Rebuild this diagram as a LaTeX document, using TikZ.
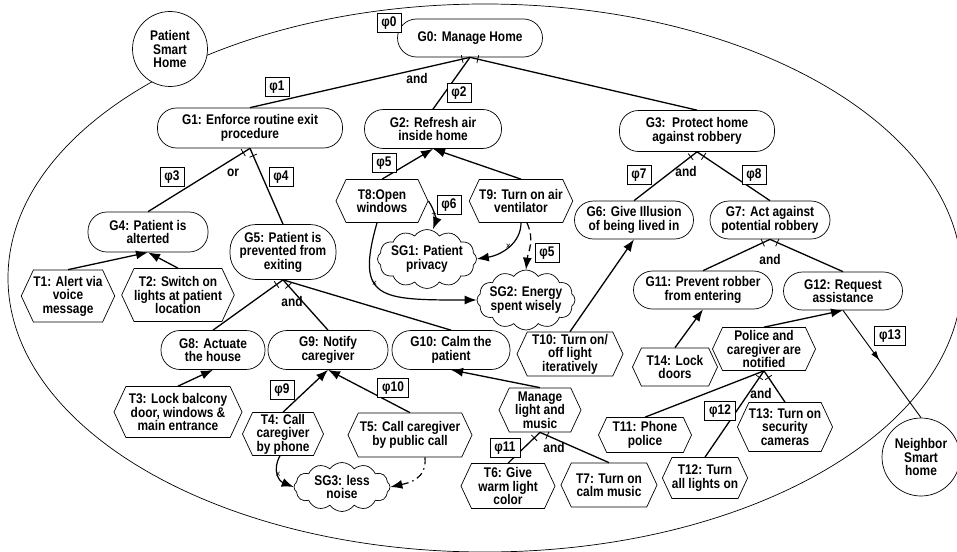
\documentclass[tikz,border=0pt]{standalone}
\usepackage{fontspec}
\setmainfont[FakeStretch=0.85]{Liberation Sans}
\usetikzlibrary{positioning,shapes.symbols,shapes.misc,arrows.meta,calc,decorations.markings}

\begin{document}
\begin{tikzpicture}[x=1pt,y=-1pt,
every node/.style={font=\fontsize{14}{13.5}\selectfont\bfseries,align=center,inner sep=0pt},
goal/.style={draw,rectangle,rounded corners=19pt,line width=0.7pt,fill=white},
task/.style={draw,signal,signal to=east and west,signal pointer angle=130,line width=0.7pt,fill=white},
soft/.style={draw,cloud,cloud puffs=12,cloud puff arc=110,inner xsep=-17pt,inner ysep=-9pt,line width=0.7pt,fill=white},
actor/.style={draw,circle,line width=0.7pt,fill=white},
phi/.style={draw,line width=0.6pt,inner xsep=4.5pt,minimum height=19pt,fill=white},
sym/.style={font=\fontsize{10}{10}\selectfont,inner sep=0pt},
dec/.style={line width=1.3pt},
means/.style={line width=1.3pt,-{Latex[length=12pt,width=9pt]}},
contrib/.style={line width=1.2pt,-{Latex[length=12pt,width=9pt]}}]

\useasboundingbox (0,0) rectangle (957,551);
\draw[line width=0.7pt] (485,278) ellipse [x radius=477,y radius=274];

\node[actor,minimum size=75pt] (PSH) at (170,49) {Patient\\Smart\\Home};
\node[actor,minimum size=78pt] (NSH) at (921,457) {Neighbor\\Smart\\home};

\node[goal,minimum width=145,minimum height=38] (G0) at (470,38) {G0: Manage Home};
\node[goal,minimum width=185,minimum height=40] (G1) at (250,128) {G1: Enforce routine exit\\procedure};
\node[goal,minimum width=137,minimum height=39] (G2) at (433,129) {G2: Refresh air\\inside home};
\node[goal,minimum width=155,minimum height=41] (G3) at (697,131) {G3:\ \ Protect home\\against robbery};
\node[goal,minimum width=120,minimum height=40] (G4) at (148,232) {G4: Patient is\\alterted};
\node[goal,minimum width=106,minimum height=55,rounded corners=26pt] (G5) at (283,252) {G5: Patient is\\prevented from\\exiting};
\node[goal,minimum width=119,minimum height=38] (G6) at (634,220) {G6: Give Illusion\\of being lived in};
\node[goal,minimum width=120,minimum height=38] (G7) at (770,220) {G7: Act against\\potential robbery};
\node[goal,minimum width=104,minimum height=39] (G8) at (213,350) {G8: Actuate\\the house};
\node[goal,minimum width=120,minimum height=39] (G9) at (328,350) {G9: Notify\\caregiver};
\node[goal,minimum width=118,minimum height=39] (G10) at (451,350) {G10: Calm the\\patient};
\node[goal,minimum width=139,minimum height=38] (G11) at (703,290) {G11: Prevent robber\\from entering};
\node[goal,minimum width=119,minimum height=38] (G12) at (843,291) {G12: Request\\assistance};

\node[task,minimum width=93,minimum height=52] (T1) at (68,296) {T1: Alert via\\voice\\message};
\node[task,minimum width=110,minimum height=53] (T2) at (178,295) {T2: Switch on\\lights at patient\\location};
\node[task,minimum width=128,minimum height=51] (T3) at (178,412) {T3: Lock balcony\\door, windows \&\\main entrance};
\node[task,minimum width=81,minimum height=43] (T4) at (283,434) {T4: Call\\caregiver\\by phone};
\node[task,minimum width=124,minimum height=44] (T5) at (410,435) {T5: Call caregiver\\by public call};
\node[task,minimum width=82,minimum height=44] (M) at (540,410) {Manage\\light and\\music};
\node[task,minimum width=94,minimum height=45] (T6) at (508,486) {T6: Give\\warm light\\color};
\node[task,minimum width=96,minimum height=44] (T7) at (609,485) {T7: Turn on\\calm music};
\node[task,minimum width=92,minimum height=43] (T8) at (382,201) {T8:Open\\windows};
\node[task,minimum width=103,minimum height=43] (T9) at (521,201) {T9: Turn on air\\ventilator};
\node[task,minimum width=106,minimum height=44] (T10) at (570,354) {T10: Turn on/\\off light\\iteratively};
\node[task,minimum width=85,minimum height=38] (T14) at (675,367) {T14: Lock\\doors};
\node[task,minimum width=103,minimum height=43] (P) at (764,349) {Police and\\caregiver are\\notified};
\node[task,minimum width=93,minimum height=35] (T11) at (645,435) {T11: Phone\\police};
\node[task,minimum width=85,minimum height=41] (T12) at (705,478) {T12: Turn\\all lights on};
\node[task,minimum width=94,minimum height=49] (T13) at (785,427) {T13: Turn on\\security\\cameras};

\node[soft,minimum width=99,minimum height=48] (SG1) at (427,259) {SG1: Patient\\privacy};
\node[soft,minimum width=98,minimum height=46] (SG2) at (526,300) {SG2: Energy\\spent wisely};
\node[soft,minimum width=96,minimum height=49] (SG3) at (342,487) {SG3: less\\noise};

\foreach \p/\c in {G0/G1,G0/G2,G0/G3,G1/G4,G1/G5,G3/G6,G3/G7,G7/G11,G7/G12,G5/G8,G5/G9,G5/G10,M/T6,M/T7,P/T11,P/T12,P/T13}{
	\draw[dec] (\p.south) -- (\c.north);
}
\foreach \p/\c in {G0/G1,G0/G3,G1/G4,G1/G5,G3/G6,G3/G7,G7/G11,G7/G12,G5/G8,G5/G9,M/T6,M/T7,P/T12,P/T13}{
	\draw[line width=0.8pt] ($(\p.south)!8pt!(\c.north)!4pt!90:(\c.north)$) -- ($(\p.south)!8pt!(\c.north)!4pt!-90:(\c.north)$);
}
\foreach \s/\t in {T1/G4,T2/G4,T3/G8,T4/G9,T5/G9,M/G10,T8/G2,T9/G2,T10/G6,T14/G11,P/G12}{
	\draw[means] (\s.north) -- (\t.south);
}

\draw[contrib] (T8.east) .. controls +(6,8) and +(3,-8) .. ([xshift=6pt]SG1.north) node[pos=0.5,sym]{+};
\draw[contrib] ([xshift=-5pt]T8.south) .. controls +(-22,77) and +(-97,0) .. (SG2.west) node[pos=0.4,sym]{×};
\draw[contrib] (T9.south) .. controls +(0,20) and +(25,-4) .. (SG1.east) node[pos=0.5,sym]{×};
\draw[contrib,dash pattern=on 7pt off 4pt] ([xshift=6pt]T9.south) .. controls +(8,18) and +(2,-18) .. (SG2.north);
\draw[contrib] ([xshift=-3pt]T4.south) .. controls +(-8,14) and +(-15,-6) .. (SG3.west) node[pos=0.5,sym]{×};
\draw[contrib,dash pattern=on 7pt off 4pt on 1.5pt off 4pt] ([xshift=15pt]T5.south) .. controls +(2,22) and +(18,-4) .. (SG3.east);

\draw[line width=0.9pt,postaction={decorate},decoration={markings,mark=at position 0.47 with {\arrow{Latex[length=10pt,width=6pt]}}}] (G12.south) -- (NSH.north);

\node (and0) at (417,78) {and};
\node (or1) at (233,173) {or};
\node (and3) at (686,171) {and};
\node (and7) at (770,259) {and};
\node (and5) at (292,301) {and};
\node (andM) at (554,447) {and};
\node (andP) at (761,393) {and};

\node[phi] (phi0) at (389,23) {φ0};
\node[phi] (phi1) at (277,87) {φ1};
\node[phi] (phi2) at (459,93) {φ2};
\node[phi] (phi3) at (172,177) {φ3};
\node[phi] (phi4) at (281,177) {φ4};
\node[phi] (phi5) at (384,163) {φ5};
\node[phi] (phi6) at (449,205) {φ6};
\node[phi] (phi5b) at (547,253) {φ5};
\node[phi] (phi7) at (639,175) {φ7};
\node[phi] (phi8) at (754,175) {φ8};
\node[phi] (phi9) at (282,390) {φ9};
\node[phi] (phi10) at (393,388) {φ10};
\node[phi] (phi11) at (505,448) {φ11};
\node[phi] (phi12) at (720,411) {φ12};
\node[phi] (phi13) at (890,336) {φ13};

\end{tikzpicture}
\end{document}
